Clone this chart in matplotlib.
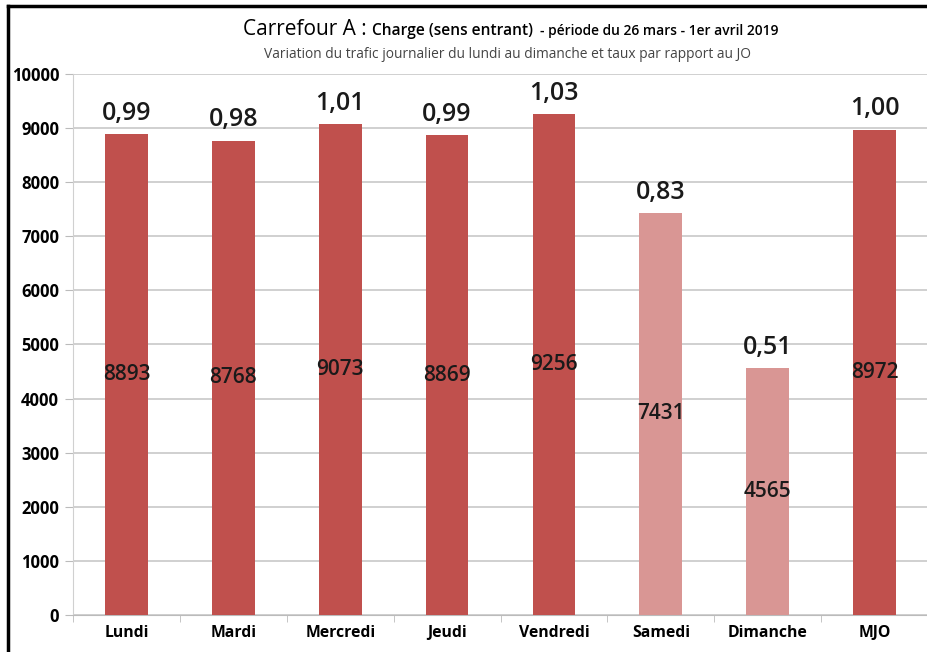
import matplotlib.pyplot as plt
from matplotlib.lines import Line2D

# Données
jours = ['Lundi', 'Mardi', 'Mercredi', 'Jeudi', 'Vendredi', 'Samedi', 'Dimanche', 'MJO']
trafic = [8893, 8768, 9073, 8869, 9256, 7431, 4565, 8972]
taux = ['0,99', '0,98', '1,01', '0,99', '1,03', '0,83', '0,51', '1,00']
couleurs = ['#C0504D'] * 5 + ['#D99694'] * 2 + ['#C0504D']

plt.rcParams['font.family'] = ['Open Sans', 'DejaVu Sans']

fig = plt.figure(figsize=(9.28, 6.52), dpi=100)
ax = fig.add_axes([0.0787, 0.0567, 0.9213, 0.830])

x = range(len(jours))
ax.bar(x, trafic, width=0.4, color=couleurs, zorder=3)

for xi, v, t in zip(x, trafic, taux):
    ax.text(xi, v / 2, str(v), ha='center', va='center', fontsize=15,
            fontweight='semibold', color='#1a1a1a', zorder=4)
    ax.text(xi, v + 150, t, ha='center', va='bottom', fontsize=18,
            fontweight='semibold', color='#1a1a1a', zorder=4)

ax.set_ylim(0, 10000)
ax.set_xlim(-0.5, 7.42)
ax.set_yticks(range(0, 10001, 1000))
ax.set_xticks(list(x))
ax.set_xticklabels(jours, fontsize=11.3, fontweight='bold')
ax.set_xticks([i + 0.5 for i in range(-1, 8)], minor=True)
ax.tick_params(axis='x', which='major', length=0, pad=7)
ax.tick_params(axis='x', which='minor', length=5, color='#bbbbbb')
ax.tick_params(axis='y', labelsize=12, length=6, color='#bbbbbb', pad=4)
for lab in ax.get_yticklabels():
    lab.set_fontweight('bold')

ax.grid(axis='y', color='#c8c8c8', linewidth=1.2, zorder=0)
for s in ['top', 'right']:
    ax.spines[s].set_visible(False)
ax.spines['left'].set_color('#d0d0d0')
ax.spines['bottom'].set_color('#bbbbbb')

# Titre
fig.text(0.262, 0.954, 'Carrefour A :', fontsize=15, va='center', ha='left')
fig.text(0.401, 0.952, 'Charge (sens entrant)', fontsize=11.2, fontweight='semibold',
         va='center', ha='left')
fig.text(0.582, 0.952, '- période du 26 mars - 1er avril 2019', fontsize=9.9,
         fontweight='semibold', va='center', ha='left')
fig.text(0.547, 0.916, 'Variation du trafic journalier du lundi au dimanche et taux par rapport au JO',
         fontsize=9.9, color='#444444', va='center', ha='center')

# Cadre
fig.add_artist(Line2D([0.009, 1.0], [0.991, 0.991], color='black', linewidth=2.5))
fig.add_artist(Line2D([0.009, 0.009], [0.0, 0.991], color='black', linewidth=2.5))

fig.savefig('out.png', dpi=100)
